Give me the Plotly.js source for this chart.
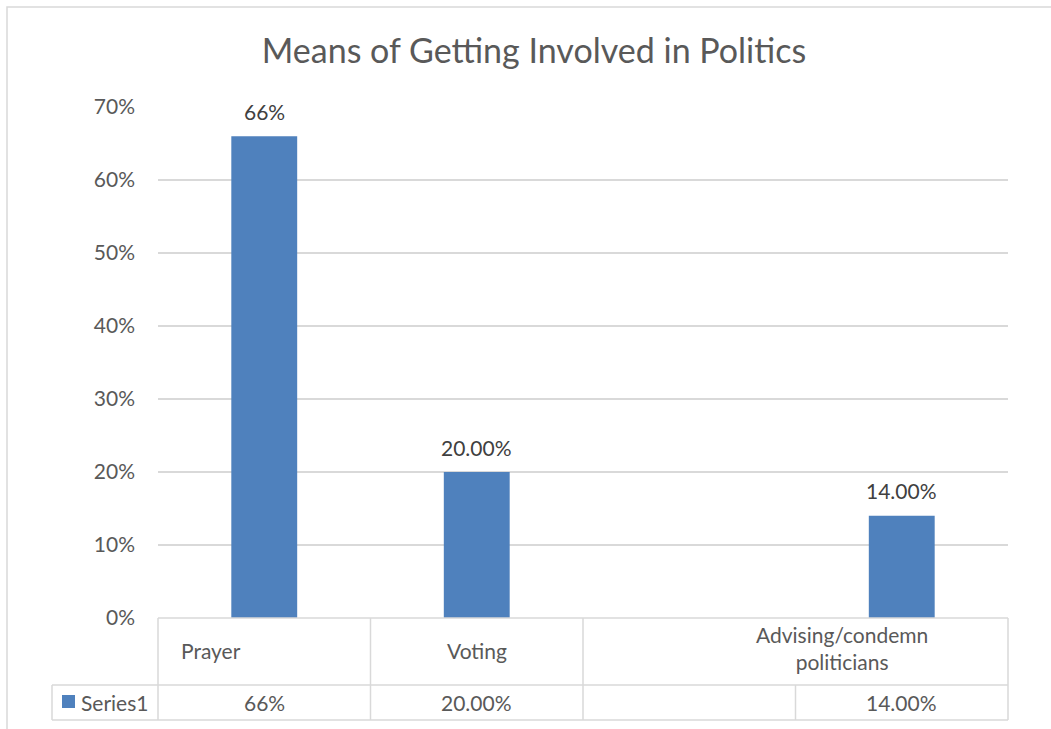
<!DOCTYPE html>
<html>
<head>
<meta charset="utf-8">
<script src="https://cdn.plot.ly/plotly-3.0.1.min.js"></script>
<style>html,body{margin:0;padding:0;background:#fff;}#chart{width:1051px;height:729px;}</style>
</head>
<body>
<div id="chart"></div>
<script>
// ---- data ----
const categories = ["Prayer", "Voting", "", "Advising/condemn<br>politicians"];
const values = [0.66, 0.20, null, 0.14];
const valueLabels = ["66%", "20.00%", "", "14.00%"];
const seriesName = "Series1";
const yTickVals = [0, 0.1, 0.2, 0.3, 0.4, 0.5, 0.6, 0.7];
const yTickText = ["0%", "10%", "20%", "30%", "40%", "50%", "60%", "70%"];

// ---- layout geometry (pixels) ----
const W = 1051, H = 729;
const L = 158, R = 1008, T = 107, B = 618;
const px = x => (x - L) / (R - L);
const py = y => (B - y) / (B - T);
const idx = categories.map((c, i) => i);
const grey = "#d9d9d9";
const txt = "#595959";
const font = "Lato, 'Open Sans', sans-serif";
const fs = 21;

const shapes = [];
function line(x0, y0, x1, y1) {
  shapes.push({type: "line", xref: "paper", yref: "paper",
    x0: px(x0), y0: py(y0), x1: px(x1), y1: py(y1),
    line: {color: grey, width: 1.5}});
}
// outer frame
shapes.push({type: "rect", xref: "paper", yref: "paper",
  x0: px(7), y0: py(7), x1: px(1070), y1: py(745),
  line: {color: grey, width: 1.5}, layer: "below"});
// data table lines
const rowTop = 618, rowMid = 685, rowBot = 720, legendLeft = 52;
line(L, rowTop, R, rowTop);
line(legendLeft, rowMid, R, rowMid);
line(legendLeft, rowBot, R, rowBot);
line(legendLeft, rowMid, legendLeft, rowBot);
const slot = (R - L) / categories.length;
for (let i = 0; i <= categories.length; i++) {
  const xb = L + i * slot;
  if (i === 3) line(xb, rowMid, xb, rowBot);
  else line(xb, rowTop, xb, rowBot);
}
// legend key square
shapes.push({type: "rect", xref: "paper", yref: "paper",
  x0: px(62), y0: py(695), x1: px(75), y1: py(708),
  fillcolor: "#4f81bd", line: {width: 0}});

const annotations = [];
const headerShift = [-53, 0, 0, -60];
const headerY = [650, 650, 650, 648];
categories.forEach((c, i) => {
  if (!c) return;
  annotations.push({xref: "x", yref: "paper", x: idx[i], xshift: headerShift[i],
    y: py(headerY[i]), text: c, showarrow: false, yanchor: "middle",
    font: {family: font, size: fs, color: txt}});
});
valueLabels.forEach((v, i) => {
  if (!v) return;
  annotations.push({xref: "x", yref: "paper", x: idx[i], y: py(702),
    text: v, showarrow: false, yanchor: "middle",
    font: {family: font, size: fs, color: txt}});
  // data label above bar
  annotations.push({xref: "x", yref: "y", x: idx[i], y: values[i], yshift: 25,
    text: v, showarrow: false, yanchor: "middle",
    font: {family: font, size: fs, color: "#404040"}});
});
annotations.push({xref: "paper", yref: "paper", x: px(79), y: py(702),
  text: seriesName, showarrow: false, xanchor: "left", yanchor: "middle",
  font: {family: font, size: fs, color: txt}});

const trace = {
  type: "bar",
  x: idx,
  y: values,
  width: 0.31,
  marker: {color: "#4f81bd"},
  hoverinfo: "skip",
  name: seriesName
};

const layout = {
  width: W, height: H,
  margin: {l: L, r: W - R, t: T, b: H - B, pad: 0},
  paper_bgcolor: "#fff", plot_bgcolor: "#fff",
  showlegend: false,
  title: {text: "Means of Getting Involved in Politics",
    font: {family: font, size: 34, color: txt},
    x: 534 / W, xref: "container", xanchor: "center",
    y: 1 - 51 / H, yref: "container", yanchor: "middle"},
  xaxis: {range: [-0.5, 3.5], showticklabels: false, showgrid: false,
    zeroline: false, showline: false, ticks: "", fixedrange: true},
  yaxis: {range: [0, 0.7], tickvals: yTickVals, ticktext: yTickText,
    showgrid: true, gridcolor: grey, gridwidth: 1.5, zeroline: false,
    showline: false, ticks: "", ticklabelstandoff: 22,
    tickfont: {family: font, size: fs, color: txt}, fixedrange: true},
  shapes: shapes,
  annotations: annotations
};

Plotly.newPlot("chart", [trace], layout, {displayModeBar: false, staticPlot: true});
</script>
</body>
</html>
